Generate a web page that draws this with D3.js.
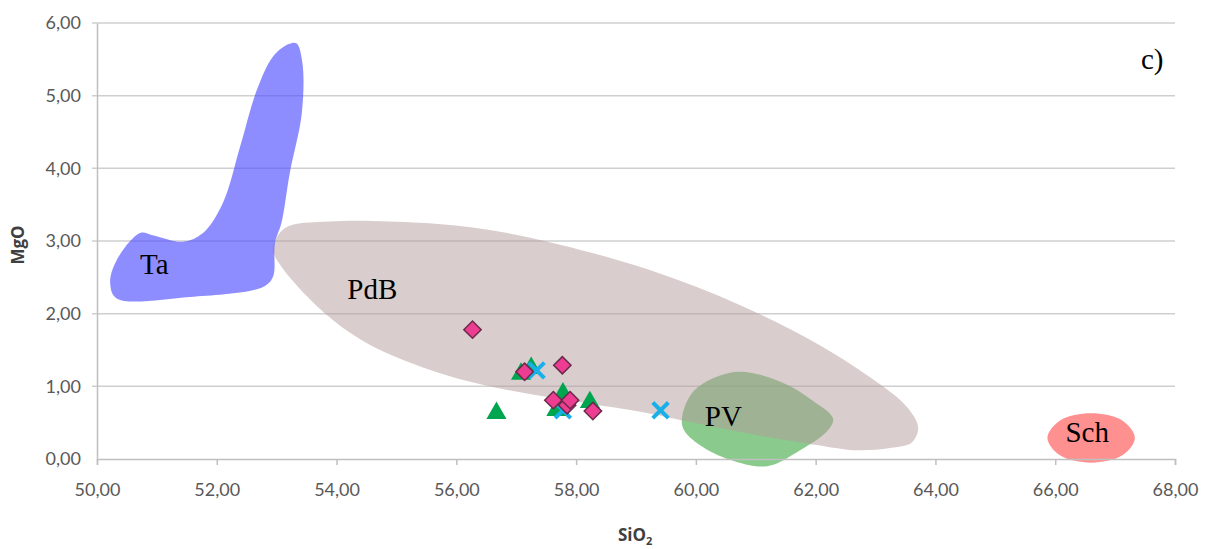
<!DOCTYPE html>
<html>
<head>
<meta charset="utf-8">
<script src="https://cdn.jsdelivr.net/npm/d3@7"></script>
<style>
  body { margin: 0; background: #fff; }
  .tick text { font-family: Lato, "Open Sans", sans-serif; font-size: 18px; fill: #595959; }
  .axis-title { font-family: "Open Sans", Lato, sans-serif; font-weight: bold; font-size: 17px; fill: #404040; }
  .field-label { font-family: "Liberation Serif", "DejaVu Serif", serif; font-size: 29px; fill: #000; }
</style>
</head>
<body>
<svg width="1222" height="549"></svg>
<script>
// axis ticks
const xTicks = [50, 52, 54, 56, 58, 60, 62, 64, 66, 68];
const yTicks = [0, 1, 2, 3, 4, 5, 6];

// samples [SiO2, MgO]
const diamonds = [[56.27, 1.78], [57.14, 1.20], [57.77, 1.29], [57.62, 0.81], [57.85, 0.74], [57.90, 0.81], [58.28, 0.66]];
const triangles = [[56.67, 0.63], [57.08, 1.17], [57.25, 1.25], [57.78, 0.90], [57.67, 0.67], [58.23, 0.78], [57.72, 0.70]];
const crosses = [[57.34, 1.22], [57.78, 0.67], [59.41, 0.67]];

// compositional fields, outlines in [SiO2, MgO]
const taField = [[53.33, 5.72], [53.43, 5.45], [53.42, 4.76], [53.22, 3.94], [53.08, 3.25], [52.97, 2.97], [52.94, 2.51],
  [52.78, 2.37], [51.55, 2.23], [50.33, 2.21], [50.22, 2.42], [50.33, 2.74], [50.72, 3.11], [50.93, 3.08],
  [51.44, 2.99], [51.77, 3.11], [52.10, 3.52], [52.39, 4.30], [52.67, 5.08], [52.94, 5.54], [53.20, 5.71]];
const pdbField = [[52.94, 2.90], [53.14, 3.18], [53.89, 3.27], [55.39, 3.25], [56.56, 3.15], [57.73, 2.95],
  [59.23, 2.60], [60.73, 2.12], [61.95, 1.62], [62.95, 1.10], [63.52, 0.72], [63.71, 0.44], [63.61, 0.23],
  [63.24, 0.15], [62.69, 0.12], [62.19, 0.17], [61.07, 0.32], [60.07, 0.48], [59.07, 0.65], [58.23, 0.76],
  [57.40, 0.87], [56.56, 1.00], [55.73, 1.18], [54.56, 1.57], [53.84, 1.98], [53.06, 2.67]];
const pvField = [[59.77, 0.58], [59.98, 0.95], [60.68, 1.20], [61.45, 1.05], [61.94, 0.81], [62.29, 0.56],
  [62.21, 0.40], [61.74, 0.12], [61.19, -0.10], [60.57, -0.01], [60.07, 0.19], [59.80, 0.40]];
const schField = [[65.87, 0.29], [66.08, 0.53], [66.60, 0.63], [67.12, 0.53], [67.33, 0.29], [67.12, 0.05],
  [66.60, -0.05], [66.08, 0.05]];

const fieldLabels = [["Ta", 50.72, 2.55], ["PdB", 54.18, 2.20], ["PV", 60.15, 0.45], ["Sch", 66.17, 0.24]];

const svg = d3.select('svg');
const x = d3.scaleLinear().domain([50, 68]).range([97, 1175]);
const y = d3.scaleLinear().domain([0, 6]).range([459, 23]);
const fmt = d => d.toFixed(2).replace('.', ',');

// grid
svg.append('g')
  .selectAll('line').data(yTicks.slice(1)).enter()
  .append('line')
    .attr('x1', x(50) - 5).attr('x2', x(68))
    .attr('y1', d => y(d)).attr('y2', d => y(d))
    .attr('stroke', '#cfcfcf').attr('stroke-width', 1.5);

const line = d3.line().x(d => x(d[0])).y(d => y(d[1])).curve(d3.curveCatmullRomClosed.alpha(0.5));

const fields = svg.append('g');
fields.append('path').attr('d', line(pvField)).attr('fill', '#4caf50').attr('fill-opacity', 0.65);
fields.append('path').attr('d', line(pdbField)).attr('fill', '#b49c9c').attr('fill-opacity', 0.5);
fields.append('path').attr('d', line(taField)).attr('fill', '#5050ff').attr('fill-opacity', 0.65);
fields.append('path').attr('d', line(schField)).attr('fill', '#ff6b6b').attr('fill-opacity', 0.75);

// axes
const xAxis = svg.append('g').attr('transform', `translate(0,${y(0)})`)
  .call(d3.axisBottom(x).tickValues(xTicks).tickFormat(fmt).tickSize(6).tickPadding(18));
xAxis.select('.domain').attr('stroke', '#bfbfbf').attr('stroke-width', 1.5);
xAxis.selectAll('.tick line').attr('stroke', '#bfbfbf').attr('stroke-width', 1.5);

const yAxis = svg.append('g').attr('transform', `translate(${x(50)},0)`)
  .call(d3.axisLeft(y).tickValues(yTicks).tickFormat(fmt).tickSize(0).tickPadding(16));
yAxis.select('.domain').attr('stroke', '#bfbfbf').attr('stroke-width', 1.5);

svg.append('text').attr('class', 'axis-title')
  .attr('transform', `translate(24,${(y(0) + y(6)) / 2 + 4}) rotate(-90)`)
  .attr('text-anchor', 'middle').text('MgO');
svg.append('text').attr('class', 'axis-title')
  .attr('x', 618).attr('y', 541)
  .text('SiO').append('tspan').attr('font-size', '11px').attr('dy', 4).text('2');

// markers
svg.append('g').selectAll('path').data(triangles).enter()
  .append('path')
    .attr('d', d3.symbol(d3.symbolTriangle, 175))
    .attr('transform', d => `translate(${x(d[0])},${y(d[1])})`)
    .attr('fill', '#00a54f');

svg.append('g').selectAll('path').data(crosses).enter()
  .append('path')
    .attr('d', d3.symbol(d3.symbolTimes, 160))
    .attr('transform', d => `translate(${x(d[0])},${y(d[1])})`)
    .attr('fill', 'none').attr('stroke', '#19b0ea').attr('stroke-width', 4);

svg.append('g').selectAll('path').data(diamonds).enter()
  .append('path')
    .attr('d', d3.symbol(d3.symbolSquare, 150))
    .attr('transform', d => `translate(${x(d[0])},${y(d[1])}) rotate(45)`)
    .attr('fill', '#ec3d92').attr('stroke', '#6a2a48').attr('stroke-width', 1.5);

// labels
svg.append('g').selectAll('text').data(fieldLabels).enter()
  .append('text').attr('class', 'field-label')
    .attr('x', d => x(d[1])).attr('y', d => y(d[2]))
    .text(d => d[0]);
svg.append('text').attr('class', 'field-label').attr('x', 1141).attr('y', 69).text('c)');
</script>
</body>
</html>
